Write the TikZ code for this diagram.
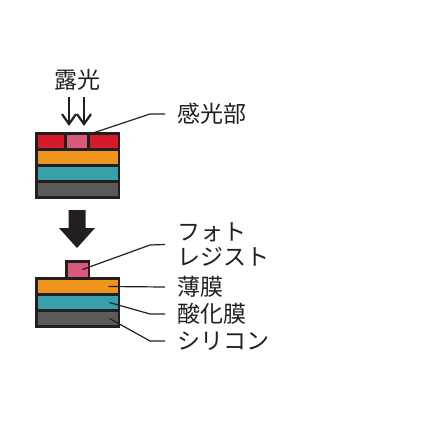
\documentclass[tikz,border=0pt]{standalone}
\usepackage{fontspec}
\setmainfont{Noto Sans CJK JP}
\usetikzlibrary{arrows.meta}
\definecolor{ink}{HTML}{231F20}
\definecolor{resred}{HTML}{D51A2B}
\definecolor{respink}{HTML}{D75A7B}
\definecolor{filmorange}{HTML}{EF941D}
\definecolor{oxteal}{HTML}{37A0AA}
\definecolor{sigrey}{HTML}{5A5A58}
\tikzset{
  layer/.style={inner sep=0pt, outer sep=0pt, minimum height=13pt},
  frame/.style={layer, fill=ink},
  leader/.style={ink, line width=1.2pt},
  lab/.style={inner sep=0pt, anchor=west, text=ink, font=\fontsize{23}{25}\selectfont, align=left}
}
\begin{document}
\begin{tikzpicture}[x=1pt,y=-1pt]
        \useasboundingbox (0,0) rectangle (440,440);
        % before exposure
        \node [frame, minimum width=85pt, minimum height=67pt] (topframe) at (77.5,165.5) {};
        \node [layer, fill=resred, minimum width=26.5pt] (redL) at (50.75,141.5) {};
        \node [layer, fill=respink, minimum width=20pt] (pinkT) at (77,141.5) {};
        \node [layer, fill=resred, minimum width=27.5pt] (redR) at (103.75,141.5) {};
        \node [layer, fill=filmorange, minimum width=80pt] (orT) at (77.5,157.5) {};
        \node [layer, fill=oxteal, minimum width=80pt] (teT) at (77.5,173.5) {};
        \node [layer, fill=sigrey, minimum width=80pt] (siT) at (77.5,189.5) {};
        \node [lab, anchor=center] (roko) at (77,80) {露光};
        \draw [ink, line width=2.2pt, -{Straight Barb[length=10pt,width=14pt]}] (69,97) -- (69,126);
        \draw [ink, line width=2.2pt, -{Straight Barb[length=10pt,width=14pt]}] (84,97) -- (84,126);
        \node [lab] (kanko) at (177,114) {感光部};
        \draw [leader] (pinkT.north east) -- (150,114) -- ([xshift=-12pt]kanko.west);
        % big arrow
        \fill [ink] (68.5,210) -- (85.5,210) -- (85.5,228) -- (95,228) -- (77,248) -- (59,228) -- (68.5,228) -- cycle;
        % after development
        \node [frame, minimum width=25pt, minimum height=20pt] (prframe) at (77.5,270) {};
        \node [frame, minimum width=85pt, minimum height=51pt] (botframe) at (77.5,302.5) {};
        \node [layer, fill=respink, minimum width=20pt, minimum height=14pt] (pinkB) at (77.5,269.5) {};
        \node [layer, fill=filmorange, minimum width=80pt] (orB) at (77.5,286.5) {};
        \node [layer, fill=oxteal, minimum width=80pt] (teB) at (77.5,302.5) {};
        \node [layer, fill=sigrey, minimum width=80pt] (siB) at (77.5,318.5) {};
        \node [lab] (photo) at (177,244.5) {フォト\\レジスト};
        \node [lab] (thin) at (177,287) {薄膜};
        \node [lab] (oxide) at (177,314) {酸化膜};
        \node [lab] (silicon) at (177,341) {シリコン};
        \draw [leader] ([xshift=5pt]pinkB.center) -- (150,245) -- ([xshift=-12pt]photo.west);
        \draw [leader] ([xshift=31pt]orB.center) -- ([xshift=-12pt]thin.west);
        \draw [leader] ([xshift=32pt]teB.center) -- (150,314) -- ([xshift=-12pt]oxide.west);
        \draw [leader] ([xshift=32pt]siB.center) -- (150,341) -- ([xshift=-12pt]silicon.west);
\end{tikzpicture}
\end{document}
